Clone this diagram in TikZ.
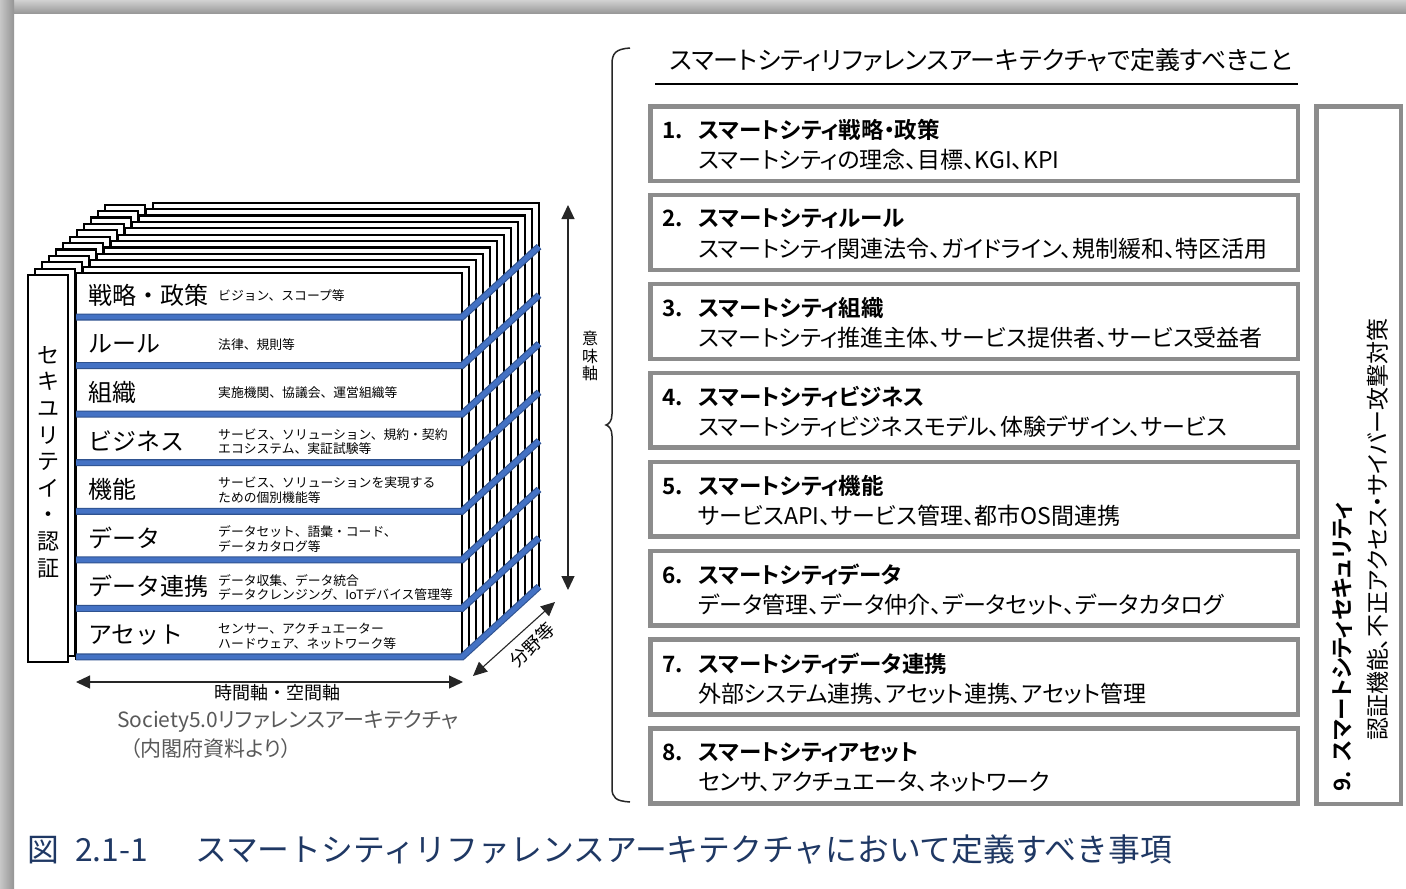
\documentclass[tikz,border=0pt]{standalone}
\usepackage{fontspec}
\newfontfamily\jp{Noto Sans CJK JP}[BoldFont={Noto Sans CJK JP Bold}]
\newfontfamily\jpp{Noto Sans CJK JP}[BoldFont={Noto Sans CJK JP Bold},RawFeature=+palt]
\usetikzlibrary{arrows.meta}
\definecolor{barblue}{RGB}{68,114,196}
\definecolor{bardark}{RGB}{47,82,143}
\definecolor{boxgray}{RGB}{140,140,140}
\definecolor{capblue}{RGB}{31,56,100}
\definecolor{subgray}{RGB}{89,89,89}
\tikzset{
 pagebox/.style={draw=black, fill=white, line width=2.2pt},
 bar/.style={draw=bardark, double=barblue, double distance=4.8pt, line width=1.1pt},
 layername/.style={font=\jp\fontsize{24}{28}\selectfont, anchor=west, inner sep=0pt},
 layerdesc/.style={font=\jp\fontsize{12.8}{14.6}\selectfont, anchor=west, align=left, inner sep=0pt},
 axisarrow/.style={draw=black!85, line width=1.1pt, {Triangle[length=14pt,width=13pt]}-{Triangle[length=14pt,width=13pt]}},
 axislabel/.style={font=\jp\fontsize{18}{20}\selectfont, inner sep=0pt},
 graybox/.style={draw=boxgray, line width=4.5pt, fill=white},
 itemhead/.style={font=\jpp\bfseries\fontsize{22.5}{26}\selectfont, anchor=west, inner sep=0pt},
 itembody/.style={font=\jpp\fontsize{23}{27}\selectfont, anchor=west, inner sep=0pt},
 subnote/.style={font=\jpp\fontsize{21}{25}\selectfont, text=subgray, anchor=west, inner sep=0pt},
}
\begin{document}
\begin{tikzpicture}[x=1pt,y=-1pt]
\useasboundingbox (0,0) rectangle (1406,889);
\fill[white] (0,0) rectangle (1406,889);
% frame
\shade[top color=black!18, bottom color=black!40] (0,0) rectangle (1406,13);
\shade[left color=black!22, right color=black!42] (0,0) rectangle (14,889);

% stacked pages
\foreach \k in {11,10,...,0} {
  \draw[pagebox] ({28+7*\k},{275-6.4*\k}) rectangle ({68+7*\k},{662-6.4*\k});
  \draw[pagebox] ({76+7*\k},{273-6.4*\k}) rectangle ({462+7*\k},{659-6.4*\k});
}
% blue bars
\foreach \i in {0,...,7} {
  \pgfmathsetmacro\yb{317+48.57*\i}
  \draw[bar] (76,\yb) -- (462,\yb) -- (539,{\yb-70.4});
}
% security column text
\node[font=\jp\fontsize{22}{26.6}\selectfont, align=center, inner sep=0pt] (sec) at (48,462)
  {セ\\キ\\ユ\\リ\\テ\\イ\\・\\認\\証};
% layer texts
\foreach \n/\d [count=\i from 0] in {
  {戦略・政策}/{ビジョン、スコープ等},
  {ルール}/{法律、規則等},
  {組織}/{実施機関、協議会、運営組織等},
  {ビジネス}/{サービス、ソリューション、規約・契約\\エコシステム、実証試験等},
  {機能}/{サービス、ソリューションを実現する\\ための個別機能等},
  {データ}/{データセット、語彙・コード、\\データカタログ等},
  {データ連携}/{データ収集、データ統合\\データクレンジング、IoTデバイス管理等},
  {アセット}/{センサー、アクチュエーター\\ハードウェア、ネットワーク等}} {
  \pgfmathsetmacro\yc{295+48.57*\i}
  \node[layername] (ln\i) at (88,\yc) {\n};
  \node[layerdesc] (ld\i) at (218,{\yc+1}) {\d};
}
% axes
\coordinate (mtop) at (568,205);
\coordinate (mbot) at (568,590);
\draw[axisarrow] (mtop) -- (mbot);
\node[font=\jp\fontsize{16}{17.5}\selectfont, align=center, inner sep=0pt] (imi) at (590,356) {意\\味\\軸};
\coordinate (tleft) at (76,682);
\coordinate (tright) at (463,682);
\draw[axisarrow] (tleft) -- (tright);
\node[axislabel] (tlab) at (277,693) {時間軸・空間軸};
\coordinate (fa) at (473,676);
\coordinate (fb) at (555,602);
\draw[axisarrow] (fa) -- (fb);
\node[axislabel, rotate=44] (flab) at (532,645) {分野等};
% source note
\node[subnote] (s1) at (117,721) {Society5.0リファレンスアーキテクチャ};
\node[subnote] (s2) at (130,749) {（内閣府資料より）};

% brace
\draw[line width=1.5pt, black!85] (630,48) .. controls (616,49) and (612,53) .. (612,64) -- (612,414)
  .. controls (612,421) and (609,424) .. (606,425) .. controls (609,426) and (612,429) .. (612,436)
  -- (612,788) .. controls (612,798) and (616,801) .. (630,802);
% header
\node[font=\jpp\fontsize{25}{29}\selectfont, inner sep=0pt] (head) at (981,60) {スマートシティリファレンスアーキテクチャで定義すべきこと};
\draw[line width=1.3pt] (655,84) -- (1298,84);

% boxes
\foreach \h/\b [count=\i] in {
  {スマートシティ戦略・政策}/{スマートシティの理念、目標、KGI、KPI},
  {スマートシティルール}/{スマートシティ関連法令、ガイドライン、規制緩和、特区活用},
  {スマートシティ組織}/{スマートシティ推進主体、サービス提供者、サービス受益者},
  {スマートシティビジネス}/{スマートシティビジネスモデル、体験デザイン、サービス},
  {スマートシティ機能}/{サービスAPI、サービス管理、都市OS間連携},
  {スマートシティデータ}/{データ管理、データ仲介、データセット、データカタログ},
  {スマートシティデータ連携}/{外部システム連携、アセット連携、アセット管理},
  {スマートシティアセット}/{センサ、アクチュエータ、ネットワーク}} {
  \pgfmathsetmacro\yt{104+88.9*(\i-1)}
  \draw[graybox] (650.25,{\yt+2.25}) rectangle (1297.75,{\yt+77});
  \node[itemhead] (h\i) at (662,{\yt+26}) {\makebox[36pt][l]{\i.}\h};
  \node[itembody] (b\i) at (698,{\yt+56}) {\b};
}
\draw[graybox] (1316.25,106.25) rectangle (1400.75,804);
\node[itemhead, rotate=90] (h9) at (1342,792) {9.\hspace{10pt}スマートシティセキュリティ};
\node[itembody, rotate=90] (b9) at (1378,741) {認証機能、不正アクセス・サイバー攻撃対策};

% caption
\node[font=\jp\fontsize{31.8}{35}\selectfont, text=capblue, anchor=west, inner sep=0pt] (cap) at (27,850)
  {\makebox[48pt][l]{図}\makebox[120pt][l]{2.1-1}スマートシティリファレンスアーキテクチャにおいて定義すべき事項};
\end{tikzpicture}
\end{document}
